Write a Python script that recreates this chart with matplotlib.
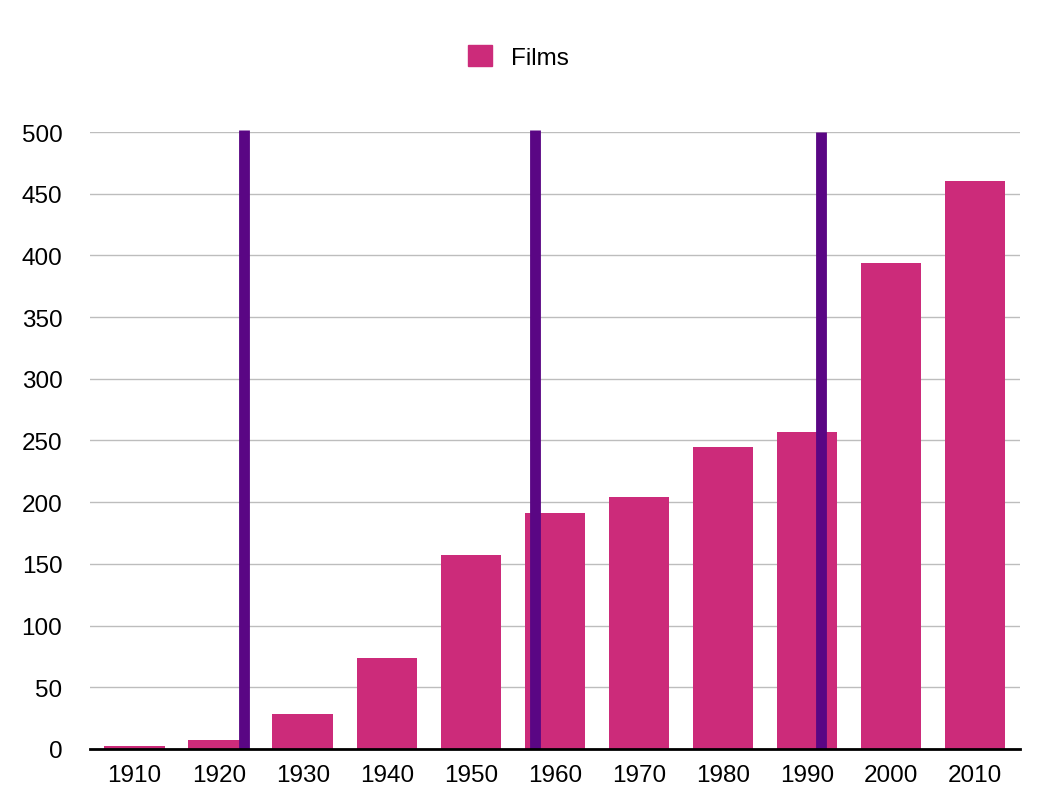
import matplotlib
matplotlib.use("Agg")
import matplotlib.pyplot as plt
from matplotlib.patches import Patch

# Data
decades = [1910, 1920, 1930, 1940, 1950, 1960, 1970, 1980, 1990, 2000, 2010]
films = [2.5, 7.5, 28.5, 74, 157, 191, 204, 245, 257, 394, 460]

# vertical marker lines (x position in years, height)
marker_x = [1923.0, 1957.6, 1991.6]
marker_top = [502, 502, 500]

bar_color = "#cc2b7a"
line_color = "#5a0684"

plt.rcParams['font.family'] = ['Liberation Sans', 'DejaVu Sans']

fig = plt.figure(figsize=(10.6, 8.12), dpi=100)
ax = fig.add_axes([0.085, 0.0764, 0.877, 0.7598])

ax.bar(decades, films, width=7.2, color=bar_color, zorder=2)
ax.vlines(marker_x, 0, marker_top, colors=line_color, linewidth=7.8,
          zorder=3, clip_on=False)

ax.set_xlim(1904.7, 2015.3)
ax.set_ylim(0, 500)
ax.set_yticks(range(0, 501, 50))
ax.set_xticks(decades)
ax.set_xticklabels([str(d) for d in decades])

ax.grid(axis='y', color='#bdbdbd', linewidth=1, zorder=0)
ax.set_axisbelow(True)
for side in ['top', 'right', 'left']:
    ax.spines[side].set_visible(False)
ax.spines['bottom'].set_color('black')
ax.spines['bottom'].set_linewidth(2)
ax.spines['bottom'].set_zorder(4)

ax.tick_params(axis='both', length=0, labelsize=17.5)
ax.tick_params(axis='y', pad=20)
ax.tick_params(axis='x', pad=11)

fig.legend(handles=[Patch(color=bar_color, label='Films')],
           loc='center', bbox_to_anchor=(0.489, 0.929), frameon=False,
           fontsize=17.5, handlelength=1.0, handleheight=1.0,
           handletextpad=0.75)

fig.savefig("out.png", dpi=100)
